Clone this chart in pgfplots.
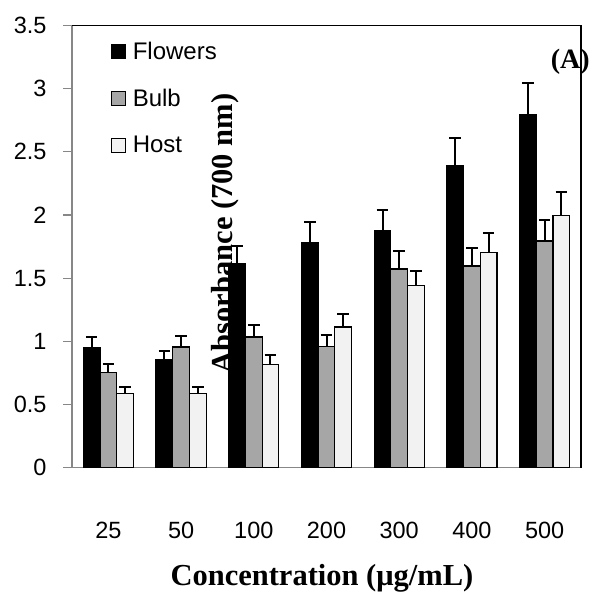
\documentclass[border=0pt]{standalone}
\usepackage{pgfplots}
\pgfplotsset{compat=1.18}
\usepackage{fontspec}
\setmainfont{Liberation Serif}
\newfontfamily\arial{Liberation Sans}
\definecolor{bulbgray}{HTML}{A6A6A6}
\definecolor{hostgray}{HTML}{F2F2F2}
\definecolor{axgray}{HTML}{878787}
\begin{document}
\begin{tikzpicture}
\useasboundingbox (0,0) rectangle (590pt,594pt);
\begin{axis}[
  at={(72pt,126.3pt)}, anchor=south west,
  scale only axis, width=509pt, height=442.2pt,
  clip=false,
  ybar=0pt, bar width=16.7pt,
  xmin=-0.5, xmax=6.5, ymin=0, ymax=3.5,
  xtick={0,...,6},
  xticklabels={25,50,100,200,300,400,500},
  major x tick style={draw=none},
  extra x ticks={-0.5,0.5,1.5,2.5,3.5,4.5,5.5,6.5},
  extra x tick labels={},
  extra x tick style={major tick length=8pt, tick style={axgray, line width=1.3pt}},
  ytick={0,0.5,...,3.5},
  tick align=outside,
  major tick length=9pt,
  tick style={axgray, line width=1.3pt},
  axis line style={axgray, line width=1.3pt},
  axis x line*=bottom, axis y line*=left,
  /pgf/number format/assume math mode=true,
  ticklabel style={font=\arial\fontsize{23.5}{23.5}\selectfont},
  xticklabel style={anchor=center, yshift=-54pt},
  yticklabel style={anchor=east, xshift=-13pt},
  xlabel={Concentration (μg/mL)},
  xlabel style={at={(axis description cs:0.491,-0.2494)}, anchor=center, font=\bfseries\fontsize{30.5}{30.5}\selectfont},
  ylabel={Absorbance (700 nm)},
  ylabel style={at={(axis description cs:0.300,0.5296)}, anchor=center, rotate=0, font=\bfseries\fontsize{30.5}{30.5}\selectfont},
  legend style={at={(axis description cs:0.076,0.967)}, anchor=north west, draw=none, fill=none,
    font=\arial\fontsize{24}{24}\selectfont, row sep=24pt, inner sep=0pt,
    /tikz/every odd column/.append style={column sep=5pt}},
  legend cell align=left,
  every axis plot post/.append style={legend image code/.code={\draw[#1,draw=black,line width=0.9pt] (0pt,-7pt) rectangle (14pt,7pt);}},
  error bars/y dir=plus, error bars/y explicit,
  error bars/error bar style={black, line width=2pt},
  error bars/error mark options={rotate=90, mark size=5.8pt, line width=2pt, black},
]
\addplot[fill=black, draw=black, line width=1.2pt] coordinates {
  (0,0.950) +- (0,0.087)
  (1,0.853) +- (0,0.073)
  (2,1.618) +- (0,0.140)
  (3,1.785) +- (0,0.163)
  (4,1.874) +- (0,0.166)
  (5,2.390) +- (0,0.218)
  (6,2.798) +- (0,0.248)
};
\addlegendentry{Flowers}
\addplot[fill=bulbgray, draw=black, line width=1.2pt] coordinates {
  (0,0.755) +- (0,0.066)
  (1,0.956) +- (0,0.087)
  (2,1.035) +- (0,0.095)
  (3,0.958) +- (0,0.092)
  (4,1.573) +- (0,0.145)
  (5,1.597) +- (0,0.145)
  (6,1.795) +- (0,0.166)
};
\addlegendentry{Bulb}
\addplot[fill=hostgray, draw=black, line width=1.2pt] coordinates {
  (0,0.589) +- (0,0.051)
  (1,0.589) +- (0,0.051)
  (2,0.819) +- (0,0.073)
  (3,1.114) +- (0,0.103)
  (4,1.439) +- (0,0.121)
  (5,1.705) +- (0,0.151)
  (6,1.998) +- (0,0.182)
};
\addlegendentry{Host}
\draw[black, line width=1.3pt] (rel axis cs:0,1) -- (rel axis cs:1,1) -- (rel axis cs:1,0);
\node[font=\bfseries\fontsize{28}{28}\selectfont, anchor=center] at (axis description cs:0.979,0.919) {(A)};
\end{axis}
\end{tikzpicture}
\end{document}
